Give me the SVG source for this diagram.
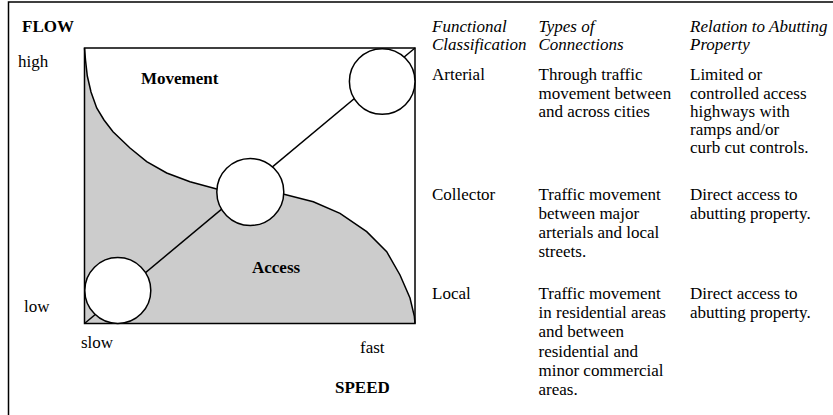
<svg xmlns="http://www.w3.org/2000/svg" width="833" height="415" viewBox="0 0 833 415">
<style>
text{font-family:"Liberation Serif","Times New Roman",serif;font-size:17px;fill:#000}
.b{font-weight:bold}
.i{font-style:italic}
.ln{fill:none;stroke:#000;stroke-width:1.5}
.node{fill:#fff;stroke:#000;stroke-width:1.5}
</style>
<rect width="833" height="415" fill="#fff"/>
<g id="frame">
<path class="ln" d="M8.5,415 V2 H833" stroke-width="2"/>
</g>
<g id="chart">
<path d="M84.5,48 L85.5,60 L87.3,76 L91,92 L96.7,108 L104,120 L113,131.7 L130,148 L146.7,161.7 L166.7,173 L190,181.7 L216.7,189 L250,193 L284,194.3 L313.3,201.7 L340,213.3 L366.7,231.7 L386.7,251.7 L400,275 L410,298 L414.3,316 L415,323.5 L84.5,323.5 Z" fill="#cccccc" stroke="none"/>
<path class="ln" d="M84.5,48 L85.5,60 L87.3,76 L91,92 L96.7,108 L104,120 L113,131.7 L130,148 L146.7,161.7 L166.7,173 L190,181.7 L216.7,189 L250,193 L284,194.3 L313.3,201.7 L340,213.3 L366.7,231.7 L386.7,251.7 L400,275 L410,298 L414.3,316 L415,323.5"/>
<rect class="ln" x="84.5" y="48" width="330.5" height="275.5"/>
<text class="b" x="141" y="84">Movement</text>
<text class="b" x="252" y="273">Access</text>
</g>
<g id="connectors">
<line class="ln" x1="84.5" y1="323.5" x2="415" y2="48"/>
</g>
<g id="node-local"><circle class="node" cx="117.8" cy="290.5" r="33"/></g>
<g id="node-collector"><circle class="node" cx="250.3" cy="192" r="33.5"/></g>
<g id="node-arterial"><circle class="node" cx="382.2" cy="81.5" r="32.8"/></g>
<g id="axes">
<text class="b" x="22" y="32">FLOW</text>
<text x="18" y="67">high</text>
<text x="24" y="312">low</text>
<text x="81" y="348">slow</text>
<text x="360" y="353">fast</text>
<text class="b" x="335" y="393">SPEED</text>
</g>
<g id="table">
<text class="i" x="432" y="31.5">Functional</text>
<text class="i" x="432" y="50">Classification</text>
<text class="i" x="538.5" y="31.5">Types of</text>
<text class="i" x="538.5" y="50">Connections</text>
<text class="i" x="690" y="31.5">Relation to Abutting</text>
<text class="i" x="690" y="50">Property</text>
<text x="432" y="80">Arterial</text>
<text x="538.5" y="80">Through traffic</text>
<text x="538.5" y="98.5">movement between</text>
<text x="538.5" y="116.8">and across cities</text>
<text x="690" y="80">Limited or</text>
<text x="690" y="98.5">controlled access</text>
<text x="690" y="116.8">highways with</text>
<text x="690" y="135">ramps and/or</text>
<text x="690" y="153.3">curb cut controls.</text>
<text x="432" y="200">Collector</text>
<text x="538.5" y="200">Traffic movement</text>
<text x="538.5" y="218.5">between major</text>
<text x="538.5" y="237.5">arterials and local</text>
<text x="538.5" y="256.7">streets.</text>
<text x="690" y="200">Direct access to</text>
<text x="690" y="218.5">abutting property.</text>
<text x="432" y="299.3">Local</text>
<text x="538.5" y="299.3">Traffic movement</text>
<text x="538.5" y="318.3">in residential areas</text>
<text x="538.5" y="337.3">and between</text>
<text x="538.5" y="356.7">residential and</text>
<text x="538.5" y="376">minor commercial</text>
<text x="538.5" y="395">areas.</text>
<text x="690" y="299.3">Direct access to</text>
<text x="690" y="318.3">abutting property.</text>
</g>
</svg>
